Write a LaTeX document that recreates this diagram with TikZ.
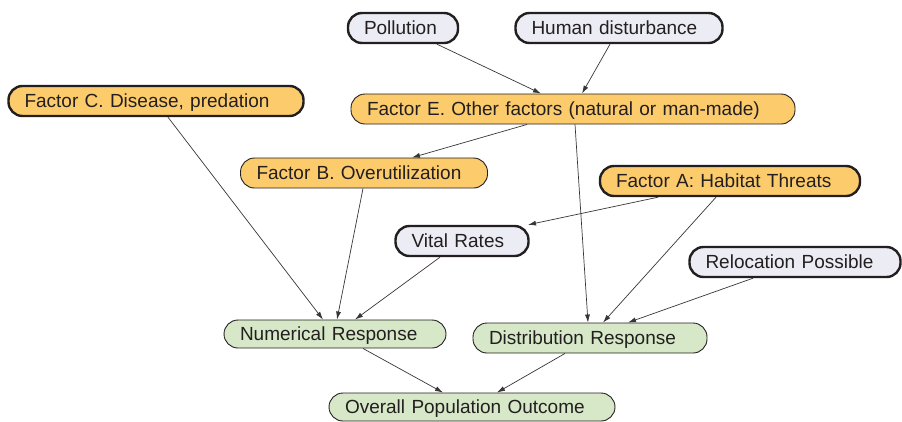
\documentclass[tikz,border=0pt]{standalone}
\usepackage{fontspec}
\setmainfont{Liberation Sans}
\usepackage{tikz}
\usetikzlibrary{arrows.meta,calc,positioning}
\definecolor{factorfill}{RGB}{252,204,108}
\definecolor{inputfill}{RGB}{236,236,245}
\definecolor{respfill}{RGB}{214,232,200}
\definecolor{inktext}{RGB}{35,31,32}
\tikzset{
        block/.style = {draw=inktext, rectangle, rounded corners=14pt,
            text=inktext, align=left, inner xsep=16pt, inner ysep=6.5pt,
            text height=14.5pt, text depth=2.5pt,
            font=\fontsize{19}{22}\selectfont},
        heavy/.style = {block, line width=2.4pt},
        light/.style = {block, line width=0.9pt},
        factor/.style = {fill=factorfill},
        input/.style = {fill=inputfill},
        resp/.style = {fill=respfill},
        arrow/.style={draw=inktext!90, line width=0.7pt, -{Latex[length=8pt,width=5pt]}},
    }

\begin{document}
\begin{tikzpicture}[x=1pt,y=-1pt]
                \useasboundingbox (0,0) rectangle (902,421);
                % inputs at the top
                \node[heavy,input,text width=78pt] at (403,28) (poll) {Pollution};
                \node[heavy,input,text width=175pt] at (619,28) (hum) {Human disturbance};

                % factors
                \node[heavy,factor,text width=263pt] at (156,101) (fC) {Factor C. Disease, predation};
                \node[light,factor,text width=412pt] at (573,109) (fE) {Factor E. Other factors (natural or man-made)};
                \node[light,factor,text width=215pt] at (364,173) (fB) {Factor B. Overutilization};
                \node[heavy,factor,text width=228pt] at (730,181) (fA) {Factor A: Habitat Threats};

                \node[heavy,input,text width=101pt] at (462,241) (vital) {Vital Rates};
                \node[heavy,input,text width=179pt] at (795,262) (reloc) {Relocation Possible};

                % responses
                \node[light,resp,text width=190pt,inner ysep=5.5pt] at (335,334) (num) {Numerical Response};
                \node[light,resp,text width=202pt] at (590,338) (dist) {Distribution Response};
                \node[light,resp,text width=254pt,inner ysep=5.5pt] at (472,407) (outc) {Overall Population Outcome};

                \draw[arrow] ([xshift=34pt]poll.south) -- ([xshift=-32pt]fE.north);
                \draw[arrow] ([xshift=-9pt]hum.south) -- ([xshift=9pt]fE.north);
                \draw[arrow] ([xshift=-46pt]fE.south) -- ([xshift=48pt]fB.north);
                \draw[arrow] ([xshift=2pt]fE.south) -- ([xshift=-2pt]dist.north);
                \draw[arrow] ([xshift=12pt]fC.south) -- ([xshift=-12pt]num.north);
                \draw[arrow] ([xshift=-1pt]fB.south) -- ([xshift=2pt]num.north);
                \draw[arrow] ([xshift=-22pt]vital.south) -- ([xshift=20pt]num.north);
                \draw[arrow] ([xshift=-72pt]fA.south) -- ([xshift=66pt]vital.north);
                \draw[arrow] ([xshift=-14pt]fA.south) -- ([xshift=13pt]dist.north);
                \draw[arrow] ([xshift=-42pt]reloc.south) -- ([xshift=38pt]dist.north);
                \draw[arrow] ([xshift=28pt]num.south) -- ([xshift=-29pt]outc.north);
                \draw[arrow] ([xshift=-25pt]dist.south) -- ([xshift=25pt]outc.north);
            \end{tikzpicture}
\end{document}
